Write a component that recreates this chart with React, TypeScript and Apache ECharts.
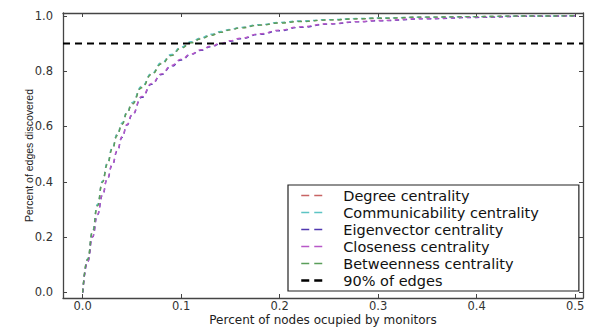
import React, { useEffect, useRef } from "react";
import * as echarts from "echarts";

const xValues = [0, 0.005, 0.01, 0.015, 0.02, 0.025, 0.03, 0.035, 0.04, 0.045, 0.05, 0.06, 0.07, 0.08, 0.09, 0.1, 0.11, 0.12, 0.13, 0.14, 0.15, 0.16, 0.18, 0.2, 0.22, 0.25, 0.28, 0.3, 0.35, 0.4, 0.45, 0.5];

const degree = [0, 0.12, 0.22, 0.315, 0.4, 0.465, 0.52, 0.57, 0.61, 0.65, 0.683, 0.742, 0.79, 0.828, 0.858, 0.885, 0.904, 0.918, 0.931, 0.941, 0.95, 0.957, 0.967, 0.975, 0.98, 0.985, 0.989, 0.991, 0.995, 0.997, 0.999, 1.0];
const communicability = [0, 0.121, 0.222, 0.318, 0.402, 0.468, 0.523, 0.572, 0.613, 0.652, 0.686, 0.745, 0.792, 0.83, 0.86, 0.887, 0.906, 0.92, 0.933, 0.943, 0.951, 0.958, 0.968, 0.976, 0.981, 0.986, 0.99, 0.992, 0.995, 0.997, 0.999, 1.0];
const eigenvector = [0, 0.11, 0.2, 0.28, 0.35, 0.41, 0.46, 0.51, 0.56, 0.605, 0.64, 0.705, 0.752, 0.788, 0.817, 0.84, 0.86, 0.875, 0.888, 0.898, 0.908, 0.917, 0.933, 0.946, 0.958, 0.97, 0.978, 0.982, 0.989, 0.994, 0.998, 1.0];
const closeness = [0, 0.111, 0.202, 0.283, 0.353, 0.413, 0.463, 0.513, 0.563, 0.607, 0.643, 0.708, 0.755, 0.79, 0.82, 0.843, 0.862, 0.877, 0.89, 0.9, 0.91, 0.919, 0.935, 0.948, 0.96, 0.971, 0.979, 0.983, 0.99, 0.995, 0.998, 1.0];
const betweenness = [0, 0.119, 0.218, 0.313, 0.398, 0.462, 0.518, 0.567, 0.608, 0.648, 0.68, 0.74, 0.788, 0.826, 0.856, 0.883, 0.902, 0.916, 0.929, 0.94, 0.949, 0.956, 0.966, 0.974, 0.979, 0.985, 0.989, 0.991, 0.995, 0.997, 0.999, 1.0];

const thresholdX = [-0.02, 0.508];
const thresholdY = [0.9, 0.9];

const xTicks = [0, 0.1, 0.2, 0.3, 0.4, 0.5];
const yTicks = [0, 0.2, 0.4, 0.6, 0.8, 1.0];

const seriesNames = [
  "Degree centrality",
  "Communicability centrality",
  "Eigenvector centrality",
  "Closeness centrality",
  "Betweenness centrality",
];
const seriesValues = [degree, communicability, eigenvector, closeness, betweenness];
const seriesColors = ["#c86464", "#5cc4c4", "#5038b0", "#b858c8", "#5a9e5a"];
const thresholdName = "90% of edges";

const pair = (xs: number[], ys: number[]) => xs.map((x, i) => [x, ys[i]]);

export default function App() {
  const ref = useRef<HTMLDivElement>(null);
  useEffect(() => {
    if (!ref.current) return;
    const chart = echarts.init(ref.current, null, { renderer: "svg" });
    const tickFont = { fontFamily: "DejaVu Sans", fontSize: 11.5, color: "#333" };
    const frameLine = { show: true, onZero: false, lineStyle: { color: "#444", width: 1.3 } };
    const series: any[] = seriesNames.map((name, i) => ({
      name,
      type: "line",
      data: pair(xValues, seriesValues[i]),
      symbol: "none",
      smooth: true,
      smoothMonotone: "x",
      lineStyle: { color: seriesColors[i], width: 1.4, type: [4, 4] },
      itemStyle: { color: seriesColors[i] },
      xAxisIndex: 0,
      yAxisIndex: 0,
    }));
    series.push({
      name: thresholdName,
      type: "line",
      data: pair(thresholdX, thresholdY),
      symbol: "none",
      lineStyle: { color: "#000", width: 2, type: [7, 5] },
      itemStyle: { color: "#000" },
      xAxisIndex: 0,
      yAxisIndex: 0,
    });
    chart.setOption({
      animation: false,
      backgroundColor: "#fff",
      grid: { left: 63, right: 9, top: 13, bottom: 30, containLabel: false, outerBoundsMode: "none" },
      xAxis: [
        {
          type: "value",
          min: -0.02,
          max: 0.508,
          position: "bottom",
          axisLine: frameLine,
          splitLine: { show: false },
          axisTick: { show: true, inside: true, length: 4, customValues: xTicks, lineStyle: { color: "#444" } },
          axisLabel: { ...tickFont, margin: 2, customValues: xTicks, formatter: (v: number) => v.toFixed(1) },
          name: "Percent of nodes ocupied by monitors",
          nameLocation: "middle",
          nameGap: 15.5,
          nameMoveOverlap: false,
          nameTextStyle: { fontFamily: "DejaVu Sans", fontSize: 12, color: "#222", verticalAlign: "top" },
        },
        {
          type: "value",
          min: -0.02,
          max: 0.508,
          position: "top",
          axisLine: frameLine,
          splitLine: { show: false },
          axisTick: { show: true, inside: true, length: 4, customValues: xTicks, lineStyle: { color: "#444" } },
          axisLabel: { show: false },
        },
      ],
      yAxis: [
        {
          type: "value",
          min: -0.02,
          max: 1.01,
          position: "left",
          axisLine: frameLine,
          splitLine: { show: false },
          axisTick: { show: true, inside: true, length: 4, customValues: yTicks, lineStyle: { color: "#444" } },
          axisLabel: { ...tickFont, margin: 10, customValues: yTicks, formatter: (v: number) => v.toFixed(1) },
          name: "Percent of edges discovered",
          nameLocation: "middle",
          nameGap: 29,
          nameMoveOverlap: false,
          nameTextStyle: { fontFamily: "Liberation Sans", fontSize: 10.5, color: "#222" },
        },
        {
          type: "value",
          min: -0.02,
          max: 1.01,
          position: "right",
          axisLine: frameLine,
          splitLine: { show: false },
          axisTick: { show: true, inside: true, length: 4, customValues: yTicks, lineStyle: { color: "#444" } },
          axisLabel: { show: false },
        },
      ],
      legend: {
        orient: "vertical",
        left: 288,
        top: 185,
        backgroundColor: "#fff",
        borderColor: "#222",
        borderWidth: 1.2,
        borderRadius: 0,
        padding: [3, 40, 3, 12],
        itemWidth: 22,
        itemHeight: 10,
        itemGap: 2,
        itemStyle: { color: "transparent", borderColor: "transparent", borderWidth: 0 },
        lineStyle: { type: [8, 5], width: 1.5 },
        textStyle: { fontFamily: "DejaVu Sans", fontSize: 14.5, color: "#111", padding: [0, 0, 0, 15] },
        data: [
          ...seriesNames.map((n) => ({ name: n })),
          { name: thresholdName, lineStyle: { type: [8, 5], width: 2.5 } },
        ],
        selectedMode: false,
      },
      series,
    });
    return () => chart.dispose();
  }, []);
  return (
    <div
      ref={ref}
      style={{ position: "fixed", left: 0, top: 0, width: 592, height: 328, background: "#fff" }}
    />
  );
}
